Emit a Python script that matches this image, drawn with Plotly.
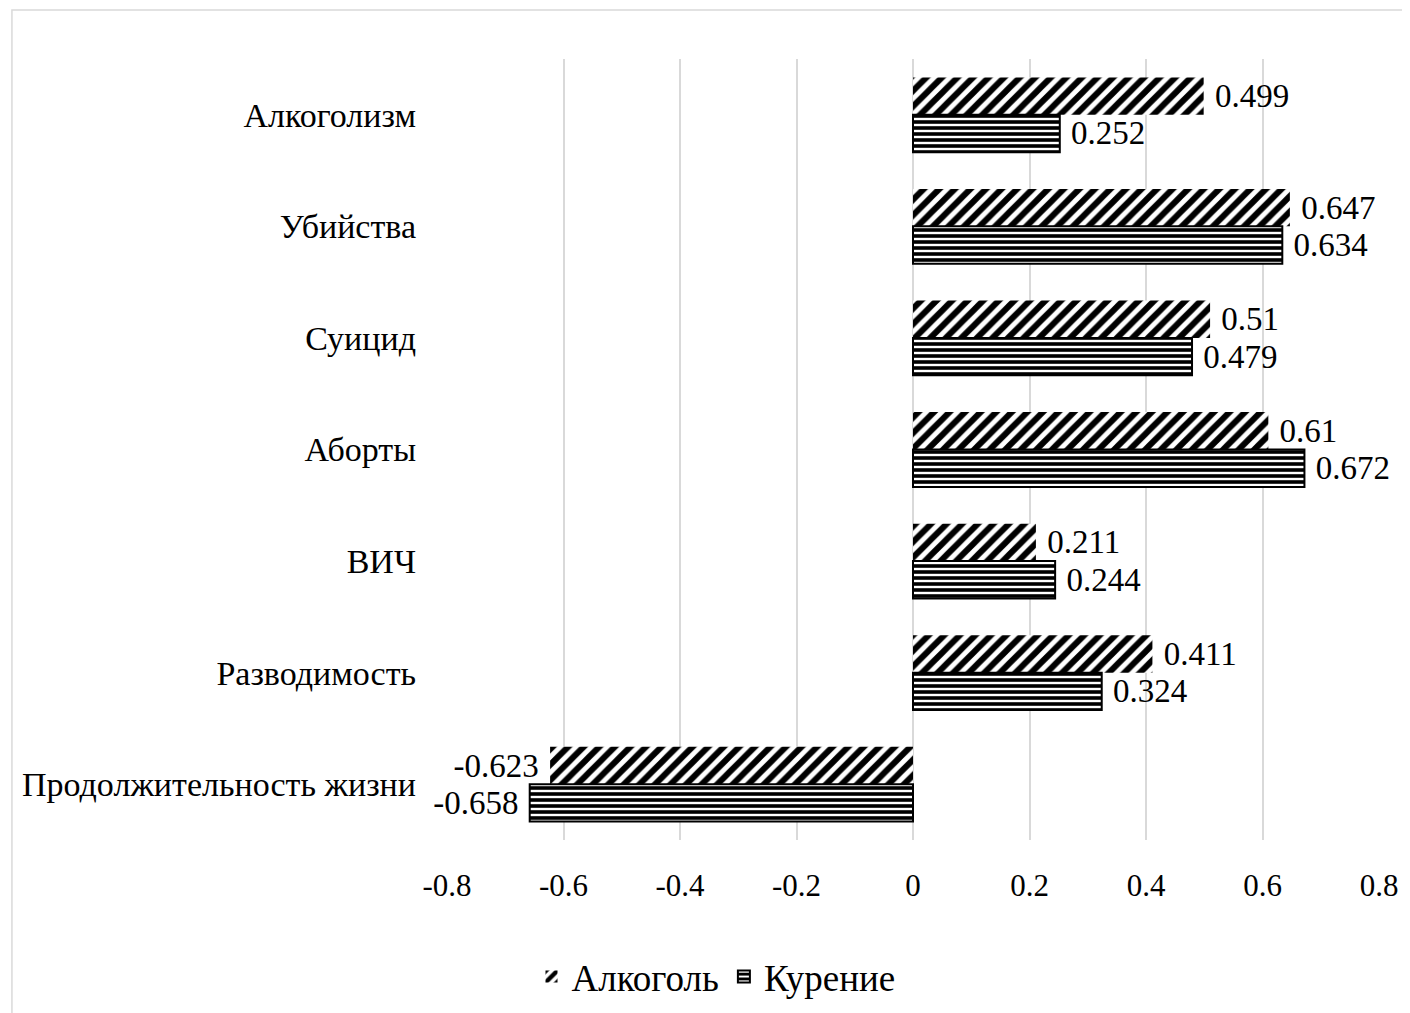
import plotly.graph_objects as go

categories = ["Алкоголизм", "Убийства", "Суицид", "Аборты", "ВИЧ", "Разводимость", "Продолжительность жизни"]
alcohol = [0.499, 0.647, 0.51, 0.61, 0.211, 0.411, -0.623]
smoking = [0.252, 0.634, 0.479, 0.672, 0.244, 0.324, -0.658]
tick_vals = [-0.8, -0.6, -0.4, -0.2, 0, 0.2, 0.4, 0.6, 0.8]
tick_text = ["-0.8", "-0.6", "-0.4", "-0.2", "0", "0.2", "0.4", "0.6", "0.8"]

FONT = "Liberation Serif"


def labels(vals):
    return [(" " + f"{v:g}") if v >= 0 else (f"{v:g}" + " ") for v in vals]


fig = go.Figure()
fig.add_trace(go.Bar(
    y=categories, x=alcohol, orientation="h", name="Алкоголь",
    text=labels(alcohol), textposition="outside",
    textfont=dict(family=FONT, size=33, color="black"),
    marker=dict(color="white", line=dict(width=0),
                pattern=dict(shape="/", fgcolor="black", fgopacity=1, bgcolor="white", size=11, solidity=0.55)),
    cliponaxis=False,
))
fig.add_trace(go.Bar(
    y=categories, x=smoking, orientation="h", name="Курение",
    text=labels(smoking), textposition="outside",
    textfont=dict(family=FONT, size=33, color="black"),
    marker=dict(color="white", line=dict(width=2, color="black"),
                pattern=dict(shape="-", fgcolor="black", fgopacity=1, bgcolor="white", size=6, solidity=0.6)),
    cliponaxis=False,
))

# page body adds an 8px offset; target pixel coords are shifted accordingly
OFF = 8
W, H = 1410 - OFF, 1013 - OFF
L, R, T, B = 447 - OFF, 1381 - OFF, 59 - OFF, 840 - OFF
fig.update_layout(
    width=W, height=H,
    margin=dict(l=L, r=W - R, t=T, b=H - B),
    paper_bgcolor="white", plot_bgcolor="white",
    barmode="group", bargap=0.33, bargroupgap=0,
    font=dict(family=FONT, size=30, color="black"),
    showlegend=True,
    legend=dict(orientation="h", xref="container", yref="container", x=(716 - OFF) / W, xanchor="center",
                y=1 - (977 - OFF) / H, yanchor="middle", font=dict(family=FONT, size=37, color="black"),
                tracegroupgap=0, itemwidth=30),
    xaxis=dict(range=[-0.8, 0.8], tickvals=tick_vals, ticktext=tick_text,
               showgrid=True, gridcolor="#d9d9d9", gridwidth=1.5,
               zeroline=True, zerolinecolor="#d9d9d9", zerolinewidth=1.5,
               showline=False, ticks="", ticklabelstandoff=24,
               tickfont=dict(family=FONT, size=31, color="black")),
    yaxis=dict(autorange="reversed", showgrid=False, showline=False, ticks="",
               ticklabelstandoff=30, tickfont=dict(family=FONT, size=34, color="black")),
    shapes=[dict(type="rect", xref="paper", yref="paper",
                 x0=(11 - OFF - L) / (R - L), x1=(1500 - L) / (R - L),
                 y0=(B - 1100) / (B - T), y1=(B - (10 - OFF)) / (B - T),
                 line=dict(color="#d9d9d9", width=1.5), fillcolor="rgba(0,0,0,0)", layer="below")],
)

fig.write_html("out.html")
